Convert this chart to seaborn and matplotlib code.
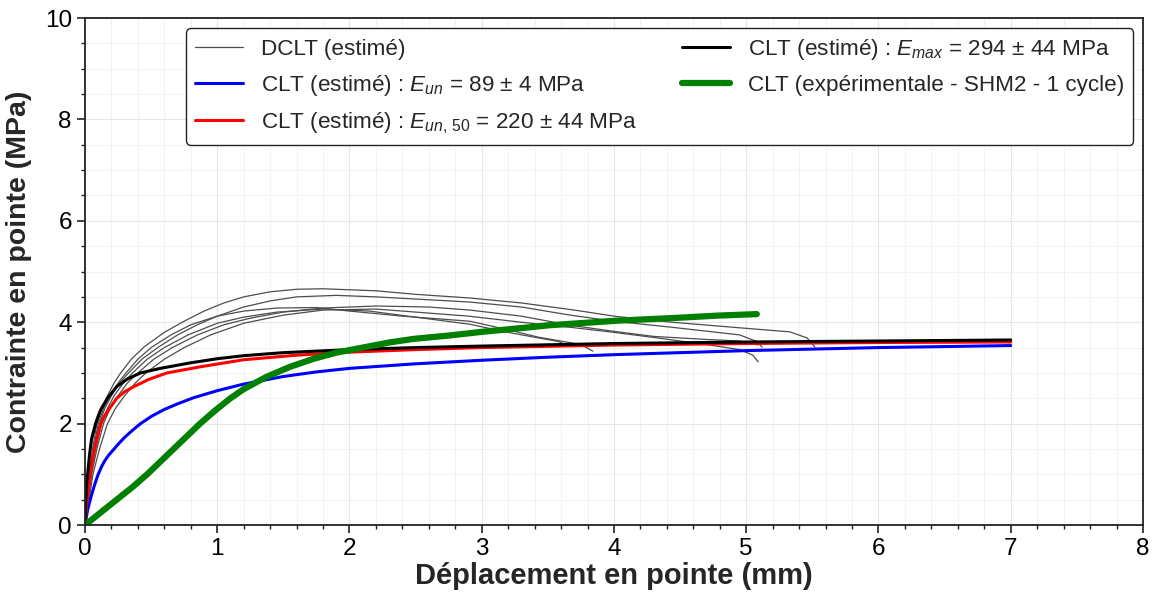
import numpy as np
import pandas as pd
import matplotlib
matplotlib.use("Agg")
import matplotlib.pyplot as plt
from matplotlib.ticker import MultipleLocator
import seaborn as sns

# ---------------- data ----------------
dclt_1_x = [0, 0.01, 0.03, 0.06, 0.09, 0.13, 0.17, 0.22, 0.27, 0.35, 0.45, 0.6, 0.75, 0.9, 1.05, 1.2, 1.4, 1.6, 1.8, 2.0, 2.2, 2.5, 2.9, 3.3, 3.7, 4.0, 4.44, 4.95, 5.33, 5.46, 5.52]
dclt_1_y = [0, 0.4, 1.0, 1.55, 2.0, 2.3, 2.55, 2.8, 3.0, 3.27, 3.52, 3.8, 4.02, 4.22, 4.38, 4.5, 4.6, 4.65, 4.66, 4.64, 4.62, 4.55, 4.48, 4.38, 4.24, 4.12, 4.0, 3.89, 3.81, 3.69, 3.51]
dclt_2_x = [0, 0.015, 0.04, 0.07, 0.11, 0.15, 0.2, 0.26, 0.33, 0.43, 0.55, 0.7, 0.85, 1.0, 1.2, 1.4, 1.6, 1.9, 2.2, 2.9, 3.3, 3.67, 4.0, 4.44, 4.95, 5.08, 5.12]
dclt_2_y = [0, 0.4, 1.0, 1.5, 2.0, 2.3, 2.55, 2.8, 3.0, 3.27, 3.5, 3.75, 3.95, 4.12, 4.3, 4.42, 4.5, 4.53, 4.5, 4.4, 4.3, 4.14, 4.02, 3.9, 3.75, 3.62, 3.51]
dclt_3_x = [0, 0.02, 0.05, 0.09, 0.14, 0.19, 0.25, 0.32, 0.4, 0.52, 0.66, 0.85, 1.05, 1.25, 1.5, 1.8, 2.2, 2.6, 2.91, 3.3, 3.67, 4.0, 4.3, 4.7, 4.95, 5.09]
dclt_3_y = [0, 0.4, 1.0, 1.5, 2.0, 2.3, 2.55, 2.8, 3.0, 3.27, 3.5, 3.75, 3.95, 4.08, 4.2, 4.28, 4.32, 4.3, 4.24, 4.12, 3.94, 3.82, 3.72, 3.66, 3.63, 3.55]
dclt_4_x = [0, 0.012, 0.035, 0.065, 0.1, 0.14, 0.19, 0.25, 0.31, 0.4, 0.5, 0.65, 0.8, 1.0, 1.2, 1.45, 1.75, 2.0, 2.4, 2.91, 3.2, 3.42, 3.64, 3.75, 3.84]
dclt_4_y = [0, 0.4, 1.0, 1.5, 2.0, 2.3, 2.55, 2.8, 3.0, 3.27, 3.5, 3.75, 3.95, 4.12, 4.22, 4.28, 4.29, 4.22, 4.12, 4.02, 3.85, 3.71, 3.61, 3.56, 3.43]
dclt_5_x = [0, 0.025, 0.06, 0.11, 0.17, 0.23, 0.3, 0.38, 0.46, 0.6, 0.75, 0.95, 1.2, 1.5, 1.8, 2.2, 2.9, 3.3, 3.67, 4.0, 4.3, 4.7, 4.95, 5.05, 5.09]
dclt_5_y = [0, 0.4, 1.0, 1.5, 2.0, 2.3, 2.55, 2.8, 3.0, 3.27, 3.5, 3.75, 3.98, 4.14, 4.24, 4.26, 4.12, 4.0, 3.9, 3.8, 3.7, 3.56, 3.46, 3.35, 3.22]
dclt_6_x = [0, 0.018, 0.045, 0.08, 0.125, 0.17, 0.22, 0.29, 0.36, 0.47, 0.6, 0.78, 1.0, 1.2, 1.45, 1.8, 2.15, 2.5, 2.91, 3.2, 3.45, 3.58, 3.64]
dclt_6_y = [0, 0.4, 1.0, 1.5, 2.0, 2.3, 2.55, 2.8, 3.0, 3.27, 3.5, 3.75, 3.98, 4.1, 4.2, 4.26, 4.22, 4.1, 3.96, 3.8, 3.68, 3.62, 3.55]

blue_x = [0, 0.02, 0.04, 0.055, 0.07, 0.085, 0.1, 0.125, 0.15, 0.18, 0.22, 0.26, 0.3, 0.36, 0.42, 0.5, 0.6, 0.7, 0.82, 1.0, 1.2, 1.5, 1.75, 2.0, 2.5, 3.0, 3.5, 4.0, 5.0, 6.0, 7.0]
blue_y = [0, 0.3, 0.5, 0.64, 0.77, 0.89, 1.0, 1.15, 1.27, 1.38, 1.5, 1.62, 1.73, 1.87, 2.0, 2.14, 2.28, 2.39, 2.51, 2.65, 2.78, 2.93, 3.02, 3.09, 3.18, 3.25, 3.31, 3.36, 3.44, 3.5, 3.54]
red_x = [0, 0.01, 0.025, 0.04, 0.06, 0.09, 0.12, 0.15, 0.18, 0.24, 0.3, 0.37, 0.48, 0.62, 0.87, 1.2, 1.6, 2.0, 2.5, 3.0, 4.0, 5.0, 6.0, 7.0]
red_y = [0, 0.35, 0.7, 1.0, 1.35, 1.7, 2.0, 2.16, 2.28, 2.5, 2.63, 2.73, 2.87, 3.0, 3.12, 3.26, 3.35, 3.41, 3.46, 3.5, 3.55, 3.58, 3.6, 3.61]
black_x = [0, 0.005, 0.012, 0.02, 0.035, 0.05, 0.08, 0.1, 0.12, 0.17, 0.24, 0.32, 0.42, 0.57, 0.8, 1.0, 1.2, 1.5, 2.0, 2.5, 3.0, 4.0, 5.0, 6.0, 7.0]
black_y = [0, 0.4, 0.8, 1.0, 1.4, 1.7, 2.0, 2.15, 2.28, 2.5, 2.73, 2.88, 3.0, 3.09, 3.2, 3.28, 3.34, 3.4, 3.46, 3.5, 3.53, 3.58, 3.61, 3.63, 3.65]
green_x = [0, 0.12, 0.24, 0.36, 0.47, 0.57, 0.67, 0.77, 0.87, 0.98, 1.1, 1.2, 1.37, 1.55, 1.73, 1.9, 2.1, 2.3, 2.48, 2.76, 3.0, 3.36, 3.51, 4.02, 4.5, 4.78, 5.08]
green_y = [0, 0.25, 0.5, 0.75, 1.0, 1.25, 1.5, 1.75, 2.0, 2.25, 2.5, 2.68, 2.92, 3.12, 3.28, 3.4, 3.5, 3.6, 3.67, 3.74, 3.81, 3.9, 3.94, 4.03, 4.09, 4.13, 4.16]

lbl_dclt = "DCLT (estimé)"
lbl_blue = r"CLT (estimé) : $E_{un}$ = 89 ± 4 MPa"
lbl_red = r"CLT (estimé) : $E_{un,\,50}$ = 220 ± 44 MPa"
lbl_black = r"CLT (estimé) : $E_{max}$ = 294 ± 44 MPa"
lbl_green = "CLT (expérimentale - SHM2 - 1 cycle)"

x_label = "Déplacement en pointe (mm)"
y_label = "Contrainte en pointe (MPa)"

# ---------------- style ----------------
sns.set_theme(style="white")
plt.rcParams["font.family"] = ["Liberation Sans", "DejaVu Sans"]
plt.rcParams["mathtext.fontset"] = "custom"
plt.rcParams["mathtext.rm"] = "Liberation Sans"
plt.rcParams["mathtext.it"] = "Liberation Sans:italic"
plt.rcParams["mathtext.bf"] = "Liberation Sans:bold"

fig = plt.figure(figsize=(11.53, 5.95), dpi=100)
ax = fig.add_axes([0.0737, 0.1176, 0.9176, 0.8521])

dclt = [(dclt_1_x, dclt_1_y), (dclt_2_x, dclt_2_y), (dclt_3_x, dclt_3_y),
        (dclt_4_x, dclt_4_y), (dclt_5_x, dclt_5_y), (dclt_6_x, dclt_6_y)]
for xx, yy in dclt:
    sns.lineplot(x=xx, y=yy, ax=ax, sort=False, estimator=None, color="0.3",
                 lw=0.9, legend=False)

sns.lineplot(x=blue_x, y=blue_y, ax=ax, sort=False, estimator=None,
             color="#0000ff", lw=2.2, legend=False)
sns.lineplot(x=red_x, y=red_y, ax=ax, sort=False, estimator=None,
             color="#ff0000", lw=2.2, legend=False)
sns.lineplot(x=black_x, y=black_y, ax=ax, sort=False, estimator=None,
             color="black", lw=2.2, legend=False)
sns.lineplot(x=green_x, y=green_y, ax=ax, sort=False, estimator=None,
             color="#008000", lw=4.5, legend=False)

lines = ax.get_lines()
l_dclt = lines[0]
l_blue, l_red, l_black, l_green = lines[6], lines[7], lines[8], lines[9]

ax.set_xlim(0, 8)
ax.set_ylim(0, 10)
ax.xaxis.set_major_locator(MultipleLocator(1))
ax.xaxis.set_minor_locator(MultipleLocator(0.2))
ax.yaxis.set_major_locator(MultipleLocator(2))
ax.yaxis.set_minor_locator(MultipleLocator(0.5))
ax.grid(True, which="major", color="#e6e6e6", lw=0.8)
ax.grid(True, which="minor", color="#f0f0f0", lw=0.6)
ax.set_axisbelow(True)
for s in ax.spines.values():
    s.set_color("#222222")
    s.set_linewidth(1.3)
ax.tick_params(which="major", direction="out", length=6, width=1.2,
               labelsize=17.5, colors="#222222", labelcolor="black", bottom=True, left=True)
ax.tick_params(which="minor", direction="out", length=3, width=1.0,
               colors="#222222", bottom=True, left=True)

ax.set_xlabel(x_label, fontsize=21, fontweight="bold", labelpad=1)
ax.set_ylabel(y_label, fontsize=20.5, fontweight="bold", labelpad=9)

handles = [l_dclt, l_blue, l_red, l_black, l_green]
labels = [lbl_dclt, lbl_blue, lbl_red, lbl_black, lbl_green]
leg = ax.legend(handles, labels, ncol=2, loc="upper right",
                bbox_to_anchor=(0.991, 0.98), borderaxespad=0.0,
                fontsize=16.2, frameon=True,
                fancybox=True, edgecolor="#222222", framealpha=1,
                handlelength=2.13, handletextpad=0.8, columnspacing=2.0,
                labelspacing=0.56, borderpad=0.4)
leg.get_frame().set_linewidth(1.0)

fig.savefig("out.png", dpi=100)
